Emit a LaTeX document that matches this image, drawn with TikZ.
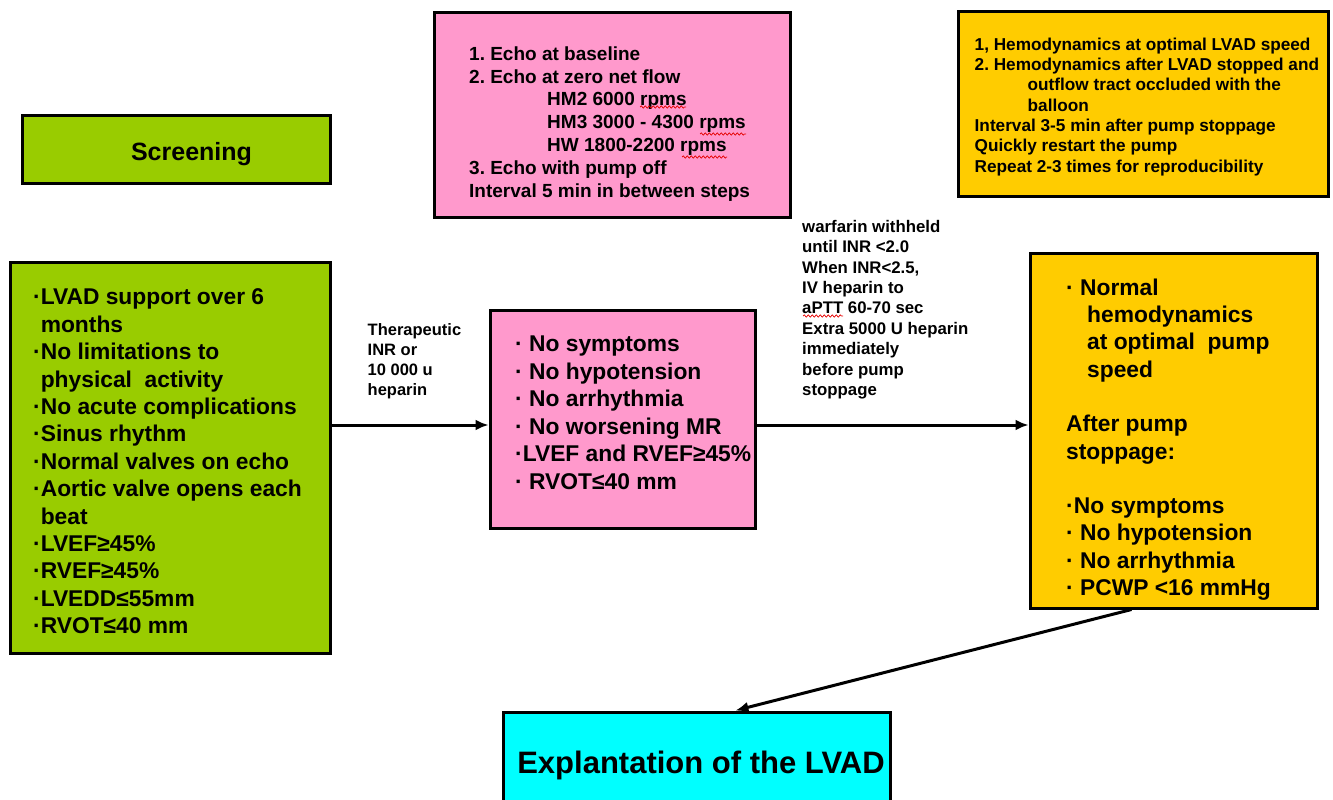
\documentclass[tikz,border=0pt]{standalone}
\usepackage{fontspec}
\setmainfont{Liberation Sans}
\usetikzlibrary{arrows.meta,calc,decorations.pathmorphing}
\definecolor{ScreenClr}{rgb}{0.6,0.8,0}
\definecolor{EchoClr}{rgb}{1,0.6,0.8}
\definecolor{HemoClr}{rgb}{1,0.8,0}
\definecolor{ExplantClr}{rgb}{0,1,1}
\definecolor{SpellClr}{rgb}{0.9,0,0}
\tikzset{
  box/.style={draw=black,line width=3pt,rectangle,inner sep=0pt},
  txt/.style={anchor=north west,inner sep=0pt,align=left,font=\bfseries},
  flow/.style={line width=3pt,-{Latex[length=13pt,width=11pt]}},
  spell/.style={SpellClr,line width=0.7pt,decorate,
    decoration={snake,amplitude=1.1pt,segment length=4pt}}
}
\newcommand{\BoxFont}[2]{\fontsize{#1}{#2}\selectfont}
\frenchspacing

\begin{document}
\begin{tikzpicture}[x=1pt,y=-1pt]
\useasboundingbox (0,0) rectangle (1333,800);

\node[box,fill=ScreenClr,minimum width=308pt,minimum height=68pt] (Screen) at (176,149) {};
\node[box,fill=EchoClr,minimum width=356pt,minimum height=205pt] (Echo) at (612,115) {};
\node[box,fill=HemoClr,minimum width=370pt,minimum height=184pt] (Hemo) at (1143,104) {};
\node[box,fill=ScreenClr,minimum width=320pt,minimum height=391pt] (Crit) at (170,458) {};
\node[box,fill=EchoClr,minimum width=265pt,minimum height=218pt] (Stable) at (622.5,419) {};
\node[box,fill=HemoClr,minimum width=287pt,minimum height=355pt] (Test) at (1173.5,430.5) {};
\node[box,fill=ExplantClr,minimum width=387pt,minimum height=120pt] (Explant) at (696.5,772) {};

\node[anchor=base,inner sep=0pt,font=\bfseries\BoxFont{25}{30}] (ScreenTxt) at (191.5,160) {Screening};

\node[txt,font=\bfseries\BoxFont{19}{22.8}] (EchoTxt) at (469,46.4) {%
1. Echo at baseline\\
2. Echo at zero net flow\\
\hspace*{78pt}HM2 6000 rpms\\
\hspace*{78pt}HM3 3000 - 4300 rpms\\
\hspace*{78pt}HW 1800-2200 rpms\\
3. Echo with pump off\\
Interval 5 min in between steps};

\node[txt,font=\bfseries\BoxFont{17.2}{20.3}] (HemoTxt) at (974.5,37.7) {%
1, Hemodynamics at optimal LVAD speed\\
2. Hemodynamics after LVAD stopped and\\
\hspace*{53pt}outflow tract occluded with the\\
\hspace*{53pt}balloon\\
Interval 3-5 min after pump stoppage\\
Quickly restart the pump\\
Repeat 2-3 times for reproducibility};

\node[txt,font=\bfseries\BoxFont{22.8}{27.4}] (CritTxt) at (33,288.7) {%
·LVAD support over 6\\
\phantom{·}months\\
·No limitations to\\
\phantom{·}physical\ \ activity\\
·No acute complications\\
·Sinus rhythm\\
·Normal valves on echo\\
·Aortic valve opens each\\
\phantom{·}beat\\
·LVEF≥45\%\\
·RVEF≥45\%\\
·LVEDD≤55mm\\
·RVOT≤40 mm};

\node[txt,font=\bfseries\BoxFont{22.8}{27.6}] (StableTxt) at (515,335.7) {%
· No symptoms\\
· No hypotension\\
· No arrhythmia\\
· No worsening MR\\
·LVEF and RVEF≥45\%\\
· RVOT≤40 mm};

\node[txt,font=\bfseries\BoxFont{22.8}{27.27}] (TestTxt) at (1066,278.7) {%
· Normal\\
\hspace*{21pt}hemodynamics\\
\hspace*{21pt}at optimal\ \ pump\\
\hspace*{21pt}speed\\[27.27pt]
After pump\\
stoppage:\\[27.27pt]
·No symptoms\\
· No hypotension\\
· No arrhythmia\\
· PCWP <16 mmHg};

\node[anchor=base,inner sep=0pt,font=\bfseries\BoxFont{31}{37}] (ExplantTxt) at (701,773) {Explantation of the LVAD};

\node[txt,font=\bfseries\BoxFont{16.5}{20}] (InrTxt) at (367.5,323) {%
Therapeutic\\
INR or\\
10 000 u\\
heparin};

\node[txt,font=\bfseries\BoxFont{16.8}{20.4}] (HeparinTxt) at (802,220) {%
warfarin withheld\\
until INR <2.0\\
When INR<2.5,\\
IV heparin to\\
aPTT 60-70 sec\\
Extra 5000 U heparin\\
immediately\\
before pump\\
stoppage};

\coordinate (FlowY) at (0,425);
\draw[flow] (Crit.east |- FlowY) -- (Stable.west |- FlowY);
\draw[flow] (Stable.east |- FlowY) -- (Test.west |- FlowY);
\draw[flow] ($(Test.south)+(-42,0)$) -- ($(Explant.north)+(39,0)$);

\draw[spell] (640,107) -- (686,107);
\draw[spell] (700,134) -- (746,134);
\draw[spell] (682,157) -- (727,157);
\draw[spell] (803,316) -- (843,316);

\end{tikzpicture}
\end{document}
